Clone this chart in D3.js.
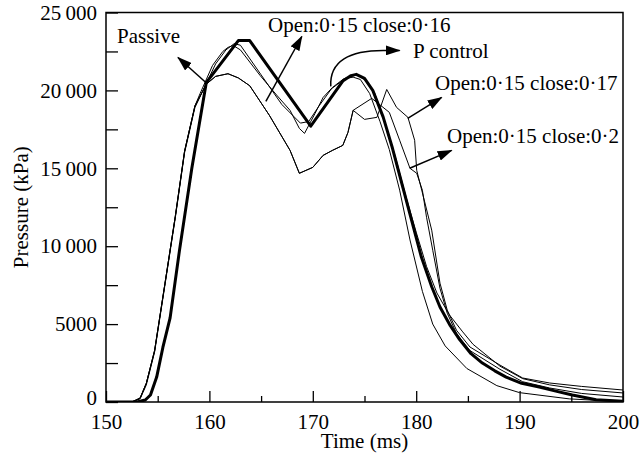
<!DOCTYPE html>
<html>
<head>
<meta charset="utf-8">
<script src="https://cdn.jsdelivr.net/npm/d3@7"></script>
<style>
  body { margin: 0; background: #fff; }
  svg { display: block; }
  text { font-family: "Liberation Serif", "Times New Roman", serif; fill: #000; }
</style>
</head>
<body>
<svg id="chart" width="640" height="460"></svg>
<script>
// Pressure traces, time in ms and pressure in kPa
const passiveTime = [150, 152.5, 153.3, 153.9, 154.7, 155.7, 156.7, 157.6, 158.6, 159.1, 160.3, 161.3, 161.8, 162.3, 163.0, 164.9, 166.5, 167.8, 168.7, 169.2, 170.2, 171.0, 171.9, 173.0, 173.9, 174.6, 175.5, 176.5, 177.4, 178.4, 179.4, 180.6, 181.6, 182.8, 184.9, 187.8, 190.0, 194.8, 200];
const passivePressure = [0, 0, 250, 1200, 3300, 7600, 11900, 16100, 19000, 19800, 21600, 22500, 22760, 22880, 22600, 20960, 19700, 18720, 17560, 17240, 18500, 19550, 20190, 20750, 20850, 20700, 19800, 18000, 16200, 13600, 10400, 7100, 5000, 3600, 2150, 1050, 600, 200, 20];

const close016Time = [150, 152.5, 153.3, 153.9, 154.7, 155.7, 156.7, 157.6, 158.6, 159.6, 160.6, 161.6, 162.4, 163.0, 165.0, 167.0, 168.8, 169.6, 170.6, 171.8, 173.2, 174.3, 175.2, 176.0, 177.0, 178.0, 179.0, 180.0, 181.0, 182.0, 183.2, 184.5, 185.5, 188.1, 190.3, 192.9, 196.0, 200];
const close016Pressure = [0, 0, 200, 1100, 3200, 7500, 11800, 16000, 18900, 20300, 21700, 22600, 23000, 22900, 21000, 19100, 17900, 18000, 19000, 20100, 20800, 21000, 20600, 19800, 17900, 15700, 13200, 10900, 8700, 7000, 5600, 4500, 3700, 2300, 1500, 1100, 800, 580];

const pControlTime = [150, 153.0, 153.8, 154.3, 154.9, 155.5, 156.2, 157.1, 158.3, 159.7, 162.8, 163.9, 169.8, 172.9, 173.7, 174.2, 175.0, 175.8, 176.8, 177.7, 178.7, 179.5, 180.5, 181.5, 182.3, 183.3, 184.2, 185.3, 186.4, 187.6, 188.7, 190.2, 191.9, 193.5, 195.1, 197.4, 200];
const pControlPressure = [0, 0, 130, 450, 1600, 3500, 5400, 9700, 15000, 20500, 23200, 23200, 17700, 20600, 20950, 21030, 20770, 20000, 18300, 16300, 13800, 11800, 9300, 7400, 6100, 4900, 4000, 3100, 2500, 2000, 1600, 1200, 960, 700, 450, 150, 50];

const close017Time = [150, 152.5, 153.3, 153.9, 154.7, 155.7, 156.7, 157.6, 158.6, 159.7, 160.6, 161.8, 162.8, 163.9, 165.8, 167.8, 168.7, 170.0, 171.0, 171.9, 172.9, 173.4, 173.9, 175.0, 176.2, 177.15, 178.1, 179.2, 179.85, 180.05, 180.8, 181.5, 182.3, 183.0, 183.9, 185.2, 188.1, 190.3, 192.9, 196.0, 200];
const close017Pressure = [0, 0, 250, 1200, 3300, 7600, 11900, 16100, 19000, 20400, 20900, 21070, 20800, 20300, 18400, 16150, 14680, 15060, 15830, 16150, 16470, 17300, 18720, 18140, 18270, 20060, 18910, 18270, 16800, 14870, 12900, 11030, 7630, 5900, 4600, 3530, 2370, 1540, 1220, 1000, 770];

const close02Time = [150, 152.5, 153.3, 153.9, 154.7, 155.7, 156.7, 157.6, 158.6, 159.7, 160.6, 161.8, 162.8, 163.9, 165.8, 167.8, 168.7, 170.0, 171.0, 171.9, 172.9, 173.4, 173.9, 175.7, 176.2, 177.4, 178.4, 179.4, 180.05, 180.6, 181.0, 181.6, 182.3, 183.0, 183.9, 185.2, 188.1, 190.3, 192.9, 196.0, 200];
const close02Pressure = [0, 0, 250, 1200, 3300, 7600, 11900, 16100, 19000, 20400, 20900, 21070, 20800, 20300, 18400, 16150, 14680, 15060, 15830, 16150, 16470, 17300, 18720, 19490, 19230, 18590, 16800, 15000, 14680, 13590, 11860, 9740, 7300, 5700, 4400, 3300, 2100, 1300, 900, 550, 320];

// Axis ticks
const timeMajorTicks = [150, 160, 170, 180, 190, 200];
const timeMinorTicks = [155, 165, 175, 185, 195];
const pressureTicks = [0, 5000, 10000, 15000, 20000, 25000];
const pressureTickLabels = ["0", "5000", "10\u2009000", "15\u2009000", "20\u2009000", "25\u2009000"];
const pressureMinorTicks = [2500, 7500, 12500, 17500, 22500];

const series = [
  { name: "Passive", time: passiveTime, pressure: passivePressure, width: 1 },
  { name: "Open:0·15 close:0·16", time: close016Time, pressure: close016Pressure, width: 1 },
  { name: "Open:0·15 close:0·17", time: close017Time, pressure: close017Pressure, width: 1 },
  { name: "Open:0·15 close:0·2", time: close02Time, pressure: close02Pressure, width: 1 },
  { name: "P control", time: pControlTime, pressure: pControlPressure, width: 3 }
];

const svg = d3.select("#chart");
const W = 640, H = 460;
const margin = { left: 106, right: 17, top: 12.5, bottom: 58 };
svg.append("rect").attr("width", W).attr("height", H).attr("fill", "#fff");

const x = d3.scaleLinear().domain([150, 200]).range([margin.left, W - margin.right]);
const y = d3.scaleLinear().domain([0, 25000]).range([H - margin.bottom, margin.top]);

const defs = svg.append("defs");
defs.append("clipPath").attr("id", "plotClip").append("rect")
  .attr("x", x(150)).attr("y", y(25000))
  .attr("width", x(200) - x(150)).attr("height", y(0) - y(25000));
defs.append("marker")
  .attr("id", "arrowHead")
  .attr("markerUnits", "userSpaceOnUse")
  .attr("markerWidth", 15).attr("markerHeight", 10)
  .attr("refX", 14).attr("refY", 5)
  .attr("orient", "auto")
  .append("path").attr("d", "M0,0L15,5L0,10Z").attr("fill", "#000");

// Curves
const line = d3.line()
  .x(d => x(d[0]))
  .y(d => y(d[1]))
  .curve(d3.curveLinear);

const curves = svg.append("g").attr("clip-path", "url(#plotClip)");
series.forEach(s => {
  curves.append("path")
    .datum(s.time.map((t, i) => [t, s.pressure[i]]))
    .attr("d", line)
    .attr("fill", "none")
    .attr("stroke", "#000")
    .attr("stroke-width", s.width)
    .attr("stroke-linejoin", "round");
});

// Axes with inward ticks
const font = 21;
const xAxis = svg.append("g")
  .attr("transform", `translate(0,${y(0)})`)
  .call(d3.axisBottom(x).tickValues(timeMajorTicks).tickSize(-11).tickPadding(12).tickFormat(d3.format("d")));
const xMinor = svg.append("g")
  .attr("transform", `translate(0,${y(0)})`)
  .call(d3.axisBottom(x).tickValues(timeMinorTicks).tickSize(-6).tickFormat(""));
const yAxis = svg.append("g")
  .attr("transform", `translate(${x(150)},0)`)
  .call(d3.axisLeft(y).tickValues(pressureTicks).tickSize(-12).tickPadding(9)
    .tickFormat((d, i) => pressureTickLabels[i]));
const yMinor = svg.append("g")
  .attr("transform", `translate(${x(150)},0)`)
  .call(d3.axisLeft(y).tickValues(pressureMinorTicks).tickSize(-12).tickFormat(""));

[xAxis, xMinor, yAxis, yMinor].forEach(g => {
  g.select(".domain").remove();
  g.selectAll(".tick line").attr("stroke", "#000").attr("stroke-width", 1.3);
  g.selectAll(".tick text")
    .attr("font-family", "Liberation Serif, Times New Roman, serif")
    .attr("font-size", font).attr("fill", "#000");
});
// the zero label sits slightly above its tick so it clears the time labels
yAxis.selectAll(".tick text").filter(d => d === 0).attr("dy", "0.12em");

// Frame
svg.append("rect")
  .attr("x", x(150)).attr("y", y(25000))
  .attr("width", x(200) - x(150)).attr("height", y(0) - y(25000))
  .attr("fill", "none").attr("stroke", "#000").attr("stroke-width", 1.5);

// Axis titles
svg.append("text")
  .attr("x", (x(150) + x(200)) / 2).attr("y", 448)
  .attr("text-anchor", "middle").attr("font-size", font)
  .text("Time (ms)");
svg.append("text")
  .attr("transform", `translate(28,${(y(0) + y(25000)) / 2}) rotate(-90)`)
  .attr("text-anchor", "middle").attr("font-size", font)
  .text("Pressure (kPa)");

// Annotations: straight arrows from a curve to a label (data units)
const arrows = [
  { from: [159.66, 20510], to: [156.96, 22115] },
  { from: [165.46, 19295], to: [168.94, 23460] },
  { from: [179.18, 18205], to: [182.46, 19550] },
  { from: [179.37, 15000], to: [183.43, 16150] }
];
arrows.forEach(a => {
  svg.append("line")
    .attr("x1", x(a.from[0])).attr("y1", y(a.from[1]))
    .attr("x2", x(a.to[0])).attr("y2", y(a.to[1]))
    .attr("stroke", "#000").attr("stroke-width", 1.5)
    .attr("marker-end", "url(#arrowHead)");
});

// Curved arrow pointing to the P control label
const bend = d3.path();
bend.moveTo(x(171.74), y(20260));
bend.bezierCurveTo(x(171.6), y(21900), x(173.6), y(22565), x(176.8), y(22565));
bend.lineTo(x(178.4), y(22565));
svg.append("path")
  .attr("d", bend.toString())
  .attr("fill", "none").attr("stroke", "#000").attr("stroke-width", 1.5)
  .attr("marker-end", "url(#arrowHead)");

const labels = [
  { text: "Passive", at: [151.06, 23040] },
  { text: "Open:0·15 close:0·16", at: [165.67, 23750] },
  { text: "P control", at: [179.69, 22080] },
  { text: "Open:0·15 close:0·17", at: [181.82, 20030] },
  { text: "Open:0·15 close:0·2", at: [182.98, 16620] }
];
labels.forEach(l => {
  svg.append("text")
    .attr("x", x(l.at[0])).attr("y", y(l.at[1]))
    .attr("font-size", font)
    .text(l.text);
});
</script>
</body>
</html>
